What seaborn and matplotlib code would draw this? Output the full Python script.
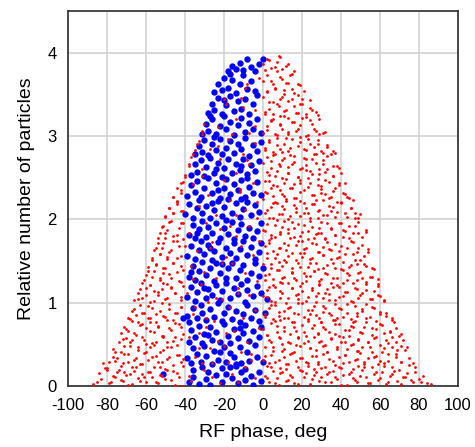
import matplotlib
matplotlib.use("Agg")
import matplotlib.pyplot as plt
import seaborn as sns

# ---------------- data ----------------
# Red particles: RF phase (deg) and relative number, listed band by band in height
red_phase = [
    -87, -84, -83, -80, -78, -76, -75, -72, -70, -69, -66, -64, -62, -60, -58, -57, -54, -52, -49, -47, -44, -42,
    1, 3, 5, 7, 8, 10, 13, 14, 16, 19, 21, 22, 24, 27, 29, 30, 33, 35, 36, 38, 41, 43, 45, 46, 48, 51, 53, 55, 57, 59, 61, 63, 65, 67, 69, 72, 74, 77, 80, 84,
    -82, -80, -77, -76, -73, -71, -69, -67, -65, -63, -61, -59, -56, -55, -52, -50, -48, -46, -43, -41,
    0, 2, 4, 6, 9, 11, 12, 15, 17, 18, 20, 23, 25, 26, 28, 31, 32, 34, 37, 39, 40, 42, 44, 47, 49, 50, 52, 54, 56, 58, 60, 62, 64, 66, 68, 71, 75, 78,
    -77, -74, -73, -70, -68, -67, -64, -62, -60, -58, -55, -53, -51, -49, -46, -44, -42,
    1, 3, 5, 8, 10, 11, 13, 16, 18, 19, 21, 24, 26, 27, 30, 32, 33, 35, 38, 40, 41, 43, 46, 48, 49, 51, 54, 56, 57, 60, 62, 64, 66, 69, 71, 74,
    -73, -71, -69, -67, -65, -62, -60, -58, -56, -54, -51, -49, -47, -45, -42,
    0, 2, 4, 7, 9, 11, 14, 15, 17, 20, 22, 23, 25, 28, 30, 31, 34, 36, 37, 39, 42, 44, 45, 47, 50, 52, 53, 56, 58, 60, 62, 65, 68, 71,
    -69, -67, -65, -63, -61, -59, -57, -55, -52, -50, -48, -45, -42,
    1, 3, 5, 6, 8, 11, 13, 14, 16, 18, 21, 23, 24, 26, 29, 31, 32, 35, 37, 38, 40, 43, 45, 47, 48, 51, 53, 55, 57, 60, 63, 66,
    -66, -64, -62, -60, -58, -56, -54, -52, -50, -47, -45, -42,
    0, 2, 4, 6, 9, 10, 12, 15, 17, 18, 20, 23, 25, 27, 28, 31, 33, 34, 37, 39, 41, 42, 45, 47, 49, 51, 53, 56, 59, 62,
    -62, -60, -58, -56, -53, -51, -49, -47, -44, -42,
    1, 3, 5, 7, 9, 11, 13, 15, 16, 19, 21, 22, 24, 26, 29, 30, 32, 35, 36, 38, 41, 43, 44, 46, 49, 51, 53, 56, 59,
    -59, -57, -55, -53, -51, -49, -46, -44, -42,
    0, 2, 4, 7, 8, 10, 13, 15, 17, 18, 21, 23, 25, 27, 28, 31, 33, 35, 37, 39, 41, 44, 46, 48, 50, 53, 56,
    -56, -54, -52, -50, -48, -46, -43, -41,
    1, 3, 5, 6, 9, 11, 12, 14, 17, 19, 20, 22, 25, 26, 29, 31, 32, 34, 37, 39, 41, 43, 46, 48, 51, 54,
    -53, -51, -49, -47, -44, -42,
    0, 2, 4, 7, 9, 10, 13, 15, 16, 19, 21, 23, 24, 27, 29, 30, 33, 35, 37, 39, 41, 44, 46, 49, 53,
    -50, -48, -46, -44, -41,
    1, 4, 5, 7, 10, 11, 13, 16, 17, 19, 22, 23, 25, 28, 29, 31, 34, 35, 37, 40, 42, 45, 47, 50,
    -46, -44, -42,
    0, 2, 4, 6, 9, 11, 12, 15, 17, 19, 21, 23, 26, 27, 30, 32, 34, 36, 38, 41, 43, 46,
    -42, -40,
    1, 3, 5, 7, 10, 11, 13, 16, 18, 19, 22, 24, 25, 28, 30, 32, 34, 36, 39, 42,
    -38, -37,
    0, 2, 4, 6, 8, 10, 13, 14, 16, 19, 21, 22, 25, 27, 29, 31, 33, 36, 39,
    -35, -33,
    1, 3, 5, 7, 9, 11, 13, 15, 18, 19, 22, 24, 26, 28, 31, 33, 36,
    -31,
    0, 2, 4, 7, 9, 10, 13, 15, 17, 19, 22, 24, 26, 29, 32,
    1, 3, 5, 7, 9, 11, 13, 16, 18, 20, 22, 25, 28,
    0, 2, 5, 6, 9, 11, 13, 15, 18, 20, 24,
    0, 2, 5, 7, 10, 12, 15, 19,
    0, 2, 4, 7, 9, 12,
    -38, -33, -29, -24, -21, -17, -12, -8, -4, -36, -27, -19, -14, -6, -2, -31, -23, -10, -35, -16, -26, -9, -3, -20, -13,
    # second, looser pass over the same envelope
    -85, -81, -79, -77, -74, -73, -68, -67, -65, -61, -59, -55, -53, -53, -50, -46, -45, -43, -41, -63, -71,
    2, 4, 6, 9, 12, 12, 15, 18, 20, 23, 25, 26, 30, 32, 34, 37, 39, 40, 44, 46, 47, 50, 52, 54, 58, 60, 62, 64, 66, 70, 71, 73, 76, 78, 81, 82, 86,
    -37, -30, -22, -16, -9, -4, -26, -13,
    -79, -76, -75, -72, -71, -69, -66, -64, -62, -60, -57, -56, -54, -51, -49, -47, -44, -42,
    1, 3, 5, 8, 10, 13, 14, 17, 19, 22, 24, 27, 28, 31, 33, 36, 38, 41, 42, 45, 48, 49, 52, 55, 57, 59, 61, 64, 66, 68, 71, 73, 75, 77,
    -35, -27, -18, -11, -6, -31, -20,
    -72, -70, -68, -66, -63, -61, -58, -57, -54, -52, -49, -48, -45, -43, -41,
    2, 4, 7, 9, 11, 14, 16, 18, 21, 23, 26, 28, 29, 32, 35, 37, 39, 42, 44, 46, 49, 51, 54, 56, 58, 61, 63, 65, 68, 70, 72,
    -38, -29, -23, -15, -8, -2, -33,
    -68, -66, -64, -62, -59, -58, -55, -53, -51, -48, -46, -44, -42,
    1, 4, 6, 8, 11, 13, 16, 18, 20, 23, 25, 27, 30, 31, 34, 37, 39, 41, 43, 46, 48, 51, 53, 56, 58, 60, 63, 66, 67,
    -36, -25, -17, -10, -4,
    -64, -63, -60, -58, -56, -54, -51, -49, -47, -45, -42, -41,
    2, 3, 6, 9, 10, 13, 15, 18, 20, 22, 25, 27, 29, 32, 34, 36, 39, 41, 43, 46, 48, 50, 53, 55, 57, 60, 62, 59,
    -39, -32, -21, -13, -7, -28,
    -61, -59, -57, -55, -53, -50, -48, -46, -43, -41,
    1, 4, 5, 8, 10, 12, 15, 17, 19, 22, 24, 26, 29, 31, 33, 36, 38, 40, 43, 45, 48, 50, 52, 55, 57, 59,
    -37, -24, -16, -9, -3, -30,
    -57, -55, -53, -51, -49, -47, -44, -42, -40,
    2, 3, 6, 8, 11, 13, 15, 18, 20, 21, 24, 27, 28, 31, 33, 35, 38, 40, 42, 45, 47, 49, 52, 54,
    -34, -26, -19, -11, -5,
    -54, -52, -50, -48, -46, -43, -41,
    1, 4, 6, 9, 11, 13, 16, 18, 20, 23, 25, 28, 30, 32, 35, 37, 40, 42, 44, 47, 49, 51, 53,
    -38, -29, -14, -7, -22,
    -50, -48, -46, -44, -42,
    2, 3, 5, 8, 10, 12, 14, 17, 19, 21, 24, 26, 28, 31, 33, 36, 38, 40, 43, 45, 47, 49,
    -33, -24, -17, -9, -3,
    -46, -44, -42, -41,
    1, 3, 5, 7, 10, 12, 14, 16, 19, 21, 23, 25, 28, 30, 32, 35, 37, 39, 42, 44,
    -36, -28, -20, -12, -5,
    -40, -38,
    2, 4, 6, 9, 11, 13, 15, 18, 20, 22, 24, 27, 29, 31, 33, 36, 38, 40,
    -31, -22, -14, -7,
    -36, -34,
    1, 3, 5, 7, 10, 12, 14, 16, 19, 21, 23, 26, 28, 30, 33, 35, 37,
    -27, -18, -10, -4,
    -31, -30,
    2, 4, 6, 9, 11, 13, 16, 18, 20, 23, 25, 27, 29, 31,
    -23, -14, -7,
    1, 3, 5, 8, 10, 12, 15, 17, 19, 22, 24, 27,
    -19, -11, -4,
    2, 4, 6, 9, 11, 13, 16, 18, 21, 14,
    -8, -2,
    1, 3, 6, 8, 10, 13, 16,
]
red_count = [
    0.02, 0.15, 0.08, 0.19, 0.04, 0.11, 0.17, 0.06, 0.13, 0.01, 0.18, 0.09, 0.14, 0.05, 0.16, 0.10, 0.03, 0.12, 0.19, 0.07, 0.15, 0.00,
    0.12, 0.05, 0.18, 0.09, 0.01, 0.16, 0.07, 0.13, 0.03, 0.19, 0.10, 0.15, 0.02, 0.17, 0.06, 0.11, 0.14, 0.04, 0.18, 0.08, 0.13, 0.01, 0.16, 0.09, 0.05, 0.19, 0.11, 0.03, 0.14, 0.07, 0.17, 0.02, 0.12, 0.18, 0.06, 0.10, 0.15, 0.04, 0.08, 0.03,
    0.27, 0.21, 0.35, 0.30, 0.24, 0.38, 0.29, 0.22, 0.33, 0.26, 0.39, 0.31, 0.23, 0.36, 0.28, 0.20, 0.34, 0.25, 0.37, 0.32,
    0.31, 0.24, 0.37, 0.28, 0.21, 0.35, 0.26, 0.39, 0.30, 0.22, 0.33, 0.27, 0.36, 0.20, 0.29, 0.38, 0.23, 0.32, 0.25, 0.34, 0.21, 0.37, 0.28, 0.31, 0.24, 0.39, 0.26, 0.33, 0.22, 0.36, 0.30, 0.27, 0.38, 0.23, 0.35, 0.29, 0.25, 0.22,
    0.44, 0.52, 0.41, 0.57, 0.48, 0.55, 0.43, 0.59, 0.50, 0.46, 0.53, 0.41, 0.58, 0.47, 0.54, 0.49, 0.56,
    0.47, 0.55, 0.42, 0.58, 0.50, 0.44, 0.53, 0.40, 0.57, 0.48, 0.51, 0.45, 0.59, 0.43, 0.54, 0.49, 0.41, 0.56, 0.46, 0.52, 0.58, 0.44, 0.50, 0.42, 0.55, 0.47, 0.53, 0.40, 0.57, 0.49, 0.45, 0.51, 0.58, 0.43, 0.48, 0.46,
    0.63, 0.71, 0.66, 0.78, 0.61, 0.74, 0.69, 0.77, 0.64, 0.72, 0.60, 0.79, 0.67, 0.75, 0.70,
    0.68, 0.61, 0.75, 0.64, 0.79, 0.70, 0.62, 0.77, 0.66, 0.73, 0.60, 0.78, 0.69, 0.63, 0.76, 0.71, 0.65, 0.79, 0.62, 0.74, 0.67, 0.60, 0.72, 0.78, 0.64, 0.70, 0.76, 0.61, 0.68, 0.74, 0.63, 0.66, 0.69, 0.62,
    0.82, 0.90, 0.85, 0.97, 0.88, 0.81, 0.94, 0.86, 0.99, 0.83, 0.92, 0.87, 0.95,
    0.86, 0.93, 0.80, 0.97, 0.84, 0.90, 0.82, 0.95, 0.88, 0.99, 0.83, 0.91, 0.86, 0.96, 0.81, 0.89, 0.94, 0.85, 0.98, 0.82, 0.92, 0.87, 0.80, 0.96, 0.84, 0.90, 0.98, 0.83, 0.93, 0.86, 0.88, 0.82,
    1.03, 1.11, 1.06, 1.18, 1.01, 1.14, 1.09, 1.16, 1.04, 1.19, 1.12, 1.07,
    1.08, 1.15, 1.02, 1.19, 1.06, 1.12, 1.00, 1.17, 1.09, 1.04, 1.14, 1.07, 1.18, 1.01, 1.11, 1.05, 1.16, 1.10, 1.03, 1.19, 1.08, 1.13, 1.02, 1.17, 1.06, 1.11, 1.15, 1.04, 1.09, 1.03,
    1.24, 1.33, 1.21, 1.38, 1.27, 1.35, 1.22, 1.30, 1.37, 1.25,
    1.27, 1.34, 1.21, 1.39, 1.25, 1.31, 1.23, 1.37, 1.29, 1.20, 1.35, 1.26, 1.32, 1.38, 1.22, 1.28, 1.36, 1.24, 1.30, 1.21, 1.39, 1.27, 1.33, 1.23, 1.36, 1.29, 1.25, 1.31, 1.22,
    1.43, 1.51, 1.46, 1.58, 1.41, 1.55, 1.48, 1.53, 1.44,
    1.46, 1.53, 1.41, 1.58, 1.49, 1.44, 1.56, 1.42, 1.51, 1.47, 1.59, 1.43, 1.54, 1.48, 1.40, 1.57, 1.45, 1.52, 1.41, 1.55, 1.49, 1.43, 1.58, 1.46, 1.51, 1.44, 1.42,
    1.63, 1.71, 1.66, 1.78, 1.61, 1.74, 1.68, 1.76,
    1.68, 1.75, 1.62, 1.79, 1.66, 1.71, 1.63, 1.77, 1.69, 1.60, 1.74, 1.65, 1.72, 1.78, 1.61, 1.67, 1.76, 1.64, 1.70, 1.62, 1.79, 1.66, 1.73, 1.61, 1.69, 1.64,
    1.84, 1.92, 1.87, 1.98, 1.81, 1.95,
    1.87, 1.94, 1.81, 1.99, 1.85, 1.91, 1.83, 1.97, 1.89, 1.80, 1.93, 1.86, 1.98, 1.82, 1.90, 1.84, 1.96, 1.88, 1.81, 1.95, 1.87, 1.92, 1.83, 1.97, 1.85,
    2.04, 2.13, 2.07, 2.18, 2.10,
    2.08, 2.15, 2.02, 2.19, 2.06, 2.12, 2.00, 2.17, 2.09, 2.04, 2.14, 2.07, 2.18, 2.01, 2.11, 2.05, 2.16, 2.10, 2.03, 2.19, 2.08, 2.13, 2.02, 2.06,
    2.27, 2.22, 2.35,
    2.24, 2.31, 2.38, 2.21, 2.35, 2.28, 2.22, 2.37, 2.26, 2.33, 2.20, 2.39, 2.29, 2.23, 2.36, 2.30, 2.25, 2.34, 2.21, 2.32, 2.27, 2.23,
    2.43, 2.51,
    2.46, 2.53, 2.41, 2.58, 2.49, 2.44, 2.56, 2.42, 2.51, 2.47, 2.59, 2.43, 2.54, 2.48, 2.40, 2.57, 2.45, 2.52, 2.41, 2.44,
    2.64, 2.75,
    2.68, 2.75, 2.62, 2.79, 2.66, 2.71, 2.63, 2.77, 2.69, 2.60, 2.74, 2.65, 2.72, 2.78, 2.61, 2.67, 2.76, 2.64, 2.62,
    2.83, 2.94,
    2.86, 2.93, 2.81, 2.98, 2.84, 2.90, 2.82, 2.96, 2.88, 2.99, 2.83, 2.91, 2.87, 2.95, 2.80, 2.89, 2.82,
    3.06,
    3.04, 3.12, 3.18, 3.01, 3.15, 3.08, 3.02, 3.17, 3.06, 3.13, 3.00, 3.19, 3.09, 3.03, 3.05,
    3.26, 3.33, 3.21, 3.38, 3.24, 3.30, 3.22, 3.36, 3.28, 3.39, 3.23, 3.31, 3.25,
    3.47, 3.54, 3.41, 3.58, 3.44, 3.51, 3.42, 3.56, 3.49, 3.45, 3.43,
    3.66, 3.73, 3.62, 3.78, 3.68, 3.64, 3.75, 3.61,
    3.86, 3.93, 3.82, 3.89, 3.95, 3.84,
    0.12, 0.45, 0.82, 1.05, 1.47, 1.92, 2.33, 2.71, 3.12, 1.28, 1.66, 0.63, 2.05, 0.38, 1.74, 2.52, 2.88, 3.35, 0.95, 3.02, 0.27, 3.58, 2.21, 3.44, 1.12,
    # second, looser pass over the same envelope
    0.05, 0.21, 0.03, 0.12, 0.19, 0.07, 0.14, 0.02, 0.23, 0.10, 0.17, 0.04, 0.22, 0.13, 0.08, 0.18, 0.01, 0.11, 0.24, 0.06, 0.16,
    0.09, 0.22, 0.03, 0.15, 0.20, 0.06, 0.11, 0.02, 0.18, 0.24, 0.08, 0.13, 0.21, 0.04, 0.16, 0.10, 0.23, 0.01, 0.14, 0.20, 0.07, 0.12, 0.22, 0.03, 0.17, 0.09, 0.24, 0.05, 0.14, 0.19, 0.02, 0.11, 0.07, 0.16, 0.04, 0.12, 0.02,
    0.06, 0.19, 0.03, 0.14, 0.22, 0.09, 0.11, 0.05,
    0.29, 0.40, 0.33, 0.27, 0.48, 0.38, 0.31, 0.46, 0.26, 0.41, 0.35, 0.49, 0.28, 0.43, 0.32, 0.47, 0.37, 0.29,
    0.36, 0.27, 0.47, 0.31, 0.42, 0.26, 0.38, 0.49, 0.33, 0.28, 0.45, 0.36, 0.26, 0.48, 0.40, 0.30, 0.44, 0.27, 0.37, 0.49, 0.32, 0.42, 0.28, 0.46, 0.35, 0.26, 0.41, 0.30, 0.47, 0.38, 0.29, 0.43, 0.33, 0.27,
    0.34, 0.45, 0.29, 0.40, 0.31, 0.27, 0.48,
    0.56, 0.68, 0.52, 0.63, 0.73, 0.55, 0.66, 0.51, 0.71, 0.60, 0.53, 0.69, 0.58, 0.74, 0.62,
    0.61, 0.53, 0.72, 0.57, 0.66, 0.51, 0.70, 0.59, 0.64, 0.54, 0.73, 0.62, 0.52, 0.68, 0.57, 0.74, 0.60, 0.53, 0.67, 0.71, 0.56, 0.63, 0.52, 0.69, 0.58, 0.73, 0.55, 0.64, 0.53, 0.60, 0.55,
    0.58, 0.71, 0.54, 0.66, 0.52, 0.69, 0.63,
    0.80, 0.92, 0.77, 0.87, 0.96, 0.82, 0.76, 0.90, 0.84, 0.98, 0.79, 0.88, 0.95,
    0.83, 0.97, 0.78, 0.89, 0.81, 0.94, 0.76, 0.86, 0.99, 0.80, 0.91, 0.85, 0.77, 0.96, 0.88, 0.79, 0.93, 0.83, 0.98, 0.76, 0.87, 0.92, 0.81, 0.95, 0.78, 0.89, 0.84, 0.79, 0.76,
    0.86, 0.78, 0.95, 0.82, 0.91,
    1.04, 1.16, 1.09, 1.21, 1.02, 1.13, 1.24, 1.06, 1.18, 1.11, 1.03, 1.20,
    1.07, 1.19, 1.01, 1.14, 1.23, 1.05, 1.17, 1.10, 1.24, 1.02, 1.15, 1.08, 1.21, 1.12, 1.03, 1.19, 1.07, 1.23, 1.13, 1.01, 1.16, 1.09, 1.22, 1.04, 1.14, 1.08, 1.02, 1.20,
    1.12, 1.22, 1.04, 1.17, 1.09, 1.01,
    1.27, 1.38, 1.31, 1.45, 1.29, 1.41, 1.34, 1.48, 1.26, 1.39,
    1.33, 1.46, 1.28, 1.39, 1.30, 1.49, 1.36, 1.27, 1.43, 1.32, 1.47, 1.38, 1.26, 1.41, 1.34, 1.48, 1.29, 1.40, 1.35, 1.45, 1.27, 1.37, 1.46, 1.31, 1.40, 1.28,
    1.44, 1.30, 1.47, 1.35, 1.26, 1.37,
    1.53, 1.66, 1.58, 1.71, 1.52, 1.63, 1.74, 1.56, 1.68,
    1.59, 1.72, 1.54, 1.66, 1.51, 1.69, 1.60, 1.74, 1.55, 1.64, 1.52, 1.70, 1.61, 1.57, 1.73, 1.63, 1.53, 1.68, 1.58, 1.74, 1.51, 1.65, 1.56, 1.61,
    1.62, 1.73, 1.55, 1.68, 1.57,
    1.78, 1.91, 1.84, 1.97, 1.80, 1.89, 1.95,
    1.86, 1.77, 1.93, 1.82, 1.98, 1.88, 1.79, 1.94, 1.85, 1.76, 1.91, 1.83, 1.97, 1.78, 1.89, 1.81, 1.95, 1.86, 1.77, 1.92, 1.84, 1.79, 1.87,
    1.83, 1.96, 1.80, 1.92, 1.88,
    2.03, 2.14, 2.07, 2.21, 2.10,
    2.11, 2.02, 2.20, 2.06, 2.16, 2.24, 2.04, 2.13, 2.22, 2.08, 2.01, 2.18, 2.10, 2.23, 2.05, 2.15, 2.09, 2.21, 2.03, 2.14, 2.07, 2.02,
    2.16, 2.05, 2.23, 2.11, 2.02,
    2.27, 2.38, 2.31, 2.45,
    2.33, 2.46, 2.28, 2.40, 2.30, 2.48, 2.37, 2.26, 2.43, 2.35, 2.49, 2.29, 2.41, 2.32, 2.47, 2.27, 2.38, 2.44, 2.30, 2.26,
    2.42, 2.29, 2.47, 2.36, 2.44,
    2.53, 2.66,
    2.57, 2.70, 2.52, 2.64, 2.74, 2.55, 2.67, 2.51, 2.62, 2.73, 2.58, 2.68, 2.54, 2.71, 2.60, 2.52, 2.64, 2.56,
    2.60, 2.72, 2.55, 2.66,
    2.78, 2.90,
    2.83, 2.95, 2.77, 2.89, 2.81, 2.98, 2.86, 2.76, 2.93, 2.84, 2.97, 2.79, 2.91, 2.82, 2.87, 2.78, 2.80,
    2.85, 2.96, 2.79, 2.92,
    3.03, 3.15,
    3.07, 3.19, 3.02, 3.13, 3.24, 3.05, 3.17, 3.09, 3.22, 3.01, 3.14, 3.06, 3.20, 3.04,
    3.11, 3.21, 3.04,
    3.29, 3.41, 3.27, 3.36, 3.47, 3.31, 3.44, 3.28, 3.38, 3.26, 3.34, 3.29,
    3.38, 3.46, 3.31,
    3.53, 3.66, 3.57, 3.71, 3.55, 3.64, 3.52, 3.62, 3.54, 3.73,
    3.62, 3.70,
    3.79, 3.91, 3.83, 3.96, 3.81, 3.87, 3.78,
]

# Blue particles: RF phase (deg) and relative number
blue_phase = [
    -38, -36, -36, -33, -31, -29, -28, -27, -24, -21, -21, -19, -16, -14, -13, -11, -9, -9, -6, -5, -2, -1, -17, -51,
    -39, -37, -36, -34, -32, -30, -29, -26, -25, -23, -20, -19, -17, -15, -12, -11, -8, -7, -4, -3, 0, -22, -14,
    -38, -37, -35, -33, -31, -30, -27, -26, -24, -22, -20, -18, -17, -15, -13, -10, -9, -7, -5, -2, -1, -28, -12,
    -39, -38, -36, -34, -32, -31, -29, -27, -25, -23, -21, -20, -18, -16, -14, -12, -10, -8, -6, -4, -2, 1, -41,
    -39, -37, -35, -34, -32, -29, -28, -26, -24, -22, -21, -19, -17, -15, -13, -11, -9, -8, -5, -3, -1, 2, -30,
    -38, -36, -35, -33, -31, -29, -27, -25, -24, -22, -19, -18, -16, -14, -12, -10, -8, -6, -4, -2, 0, -21, -37,
    -39, -37, -35, -33, -32, -30, -28, -26, -25, -23, -21, -19, -17, -15, -14, -12, -10, -8, -6, -4, -2, -1, -27,
    -38, -36, -35, -33, -31, -29, -28, -26, -24, -22, -20, -18, -16, -15, -13, -11, -9, -7, -5, -3, -1, -19, -34,
    -40, -38, -36, -34, -33, -31, -29, -27, -25, -23, -21, -20, -18, -16, -14, -12, -10, -8, -6, -4, -2, -26, -11,
    -39, -37, -35, -34, -32, -30, -28, -26, -24, -22, -20, -19, -17, -15, -13, -11, -9, -7, -5, -3, -1, -23, -8,
    -37, -35, -34, -32, -30, -29, -27, -25, -23, -21, -20, -18, -16, -14, -12, -10, -8, -6, -4, -2, -24, -11,
    -35, -33, -31, -30, -28, -26, -24, -22, -21, -19, -17, -15, -13, -11, -9, -7, -5, -3, -1, -25,
    -31, -29, -28, -26, -24, -22, -20, -19, -17, -15, -13, -11, -9, -7, -5, -3, -1, -27,
    -28, -26, -25, -23, -21, -19, -17, -15, -13, -11, -9, -7, -5, -3, -20,
    -25, -23, -21, -20, -18, -16, -14, -12, -10, -8, -6, -4, -17,
    -18, -16, -14, -12, -10, -8, -6, -4, -2, 0,
]
blue_count = [
    0.04, 0.19, 0.11, 0.02, 0.23, 0.08, 0.16, 0.01, 0.13, 0.21, 0.05, 0.14, 0.09, 0.24, 0.03, 0.17, 0.07, 0.20, 0.12, 0.01, 0.16, 0.06, 0.22, 0.14,
    0.33, 0.27, 0.45, 0.38, 0.29, 0.48, 0.36, 0.26, 0.42, 0.31, 0.47, 0.28, 0.39, 0.34, 0.46, 0.27, 0.41, 0.30, 0.49, 0.35, 0.28, 0.40, 0.26,
    0.53, 0.67, 0.58, 0.72, 0.51, 0.62, 0.70, 0.55, 0.64, 0.52, 0.74, 0.60, 0.51, 0.68, 0.57, 0.63, 0.73, 0.54, 0.66, 0.59, 0.71, 0.61, 0.69,
    0.84, 0.77, 0.93, 0.81, 0.97, 0.87, 0.79, 0.92, 0.83, 0.99, 0.78, 0.88, 0.95, 0.80, 0.90, 0.76, 0.86, 0.97, 0.82, 0.91, 0.78, 0.88, 0.82,
    1.07, 1.19, 1.02, 1.13, 1.23, 1.05, 1.16, 1.09, 1.21, 1.03, 1.14, 1.24, 1.06, 1.17, 1.10, 1.22, 1.01, 1.15, 1.08, 1.20, 1.12, 1.04, 1.18,
    1.31, 1.44, 1.27, 1.38, 1.49, 1.33, 1.42, 1.26, 1.47, 1.35, 1.29, 1.41, 1.48, 1.30, 1.39, 1.45, 1.27, 1.36, 1.48, 1.32, 1.41, 1.46, 1.37,
    1.56, 1.68, 1.52, 1.63, 1.74, 1.58, 1.69, 1.51, 1.62, 1.73, 1.55, 1.66, 1.59, 1.71, 1.53, 1.64, 1.74, 1.57, 1.67, 1.52, 1.61, 1.72, 1.65,
    1.81, 1.93, 1.77, 1.88, 1.98, 1.79, 1.91, 1.84, 1.96, 1.78, 1.89, 1.82, 1.97, 1.76, 1.87, 1.94, 1.80, 1.90, 1.77, 1.86, 1.95, 1.99, 1.84,
    2.06, 2.18, 2.02, 2.13, 2.23, 2.07, 2.16, 2.01, 2.11, 2.22, 2.04, 2.15, 2.24, 2.08, 2.19, 2.03, 2.12, 2.21, 2.05, 2.17, 2.09, 2.20, 2.24,
    2.28, 2.41, 2.33, 2.46, 2.27, 2.38, 2.49, 2.31, 2.43, 2.26, 2.37, 2.48, 2.30, 2.42, 2.35, 2.47, 2.27, 2.39, 2.32, 2.45, 2.29, 2.35, 2.49,
    2.53, 2.66, 2.57, 2.71, 2.52, 2.63, 2.74, 2.56, 2.68, 2.51, 2.62, 2.73, 2.55, 2.67, 2.59, 2.72, 2.54, 2.65, 2.58, 2.70, 2.61, 2.64,
    2.78, 2.88, 2.81, 2.95, 2.77, 2.90, 2.83, 2.97, 2.79, 2.86, 2.94, 2.80, 2.91, 2.84, 2.98, 2.76, 2.89, 2.82, 2.93, 2.99,
    3.03, 3.14, 3.06, 3.21, 3.02, 3.12, 3.24, 3.08, 3.17, 3.01, 3.13, 3.22, 3.05, 3.16, 3.09, 3.20, 3.04, 3.24,
    3.28, 3.39, 3.31, 3.46, 3.27, 3.37, 3.48, 3.30, 3.42, 3.33, 3.45, 3.26, 3.38, 3.49, 3.43,
    3.53, 3.62, 3.55, 3.70, 3.58, 3.67, 3.52, 3.63, 3.73, 3.57, 3.66, 3.54, 3.74,
    3.78, 3.84, 3.80, 3.88, 3.79, 3.92, 3.83, 3.78, 3.86, 3.93,
]

x_ticks = [-100, -80, -60, -40, -20, 0, 20, 40, 60, 80, 100]
y_ticks = [0, 1, 2, 3, 4]
x_label = "RF phase, deg"
y_label = "Relative number of particles"

# ---------------- drawing ----------------
sns.set_theme(style="whitegrid")
plt.rcParams['font.family'] = ['Liberation Sans', 'DejaVu Sans']
plt.rcParams['axes.unicode_minus'] = False

fig, ax = plt.subplots(figsize=(4.75, 4.47), dpi=100)
fig.subplots_adjust(left=0.143, right=0.964, bottom=0.137, top=0.975)
ax.set_facecolor("white")

sns.scatterplot(x=blue_phase, y=blue_count, color="#0000ff", s=21, linewidth=0,
                ax=ax, legend=False, zorder=3)
sns.scatterplot(x=red_phase, y=red_count, color="#ff0000", s=4, linewidth=0,
                ax=ax, legend=False, zorder=4)

ax.set_xlim(-100, 100)
ax.set_ylim(0, 4.5)
ax.set_xticks(x_ticks)
ax.set_yticks(y_ticks)
ax.grid(True, color="#d6d6d6", linewidth=1.3)
ax.set_axisbelow(True)
for sp in ax.spines.values():
    sp.set_visible(True)
    sp.set_color("#3a3a3a")
    sp.set_linewidth(1.3)
ax.tick_params(axis="both", length=0, labelsize=12, colors="black")
ax.tick_params(axis="x", pad=9)
ax.tick_params(axis="y", pad=8)
ax.set_xlabel(x_label, fontsize=14, labelpad=8, color="black")
ax.set_ylabel(y_label, fontsize=14, labelpad=9, color="black")

fig.savefig("out.png", dpi=100)
